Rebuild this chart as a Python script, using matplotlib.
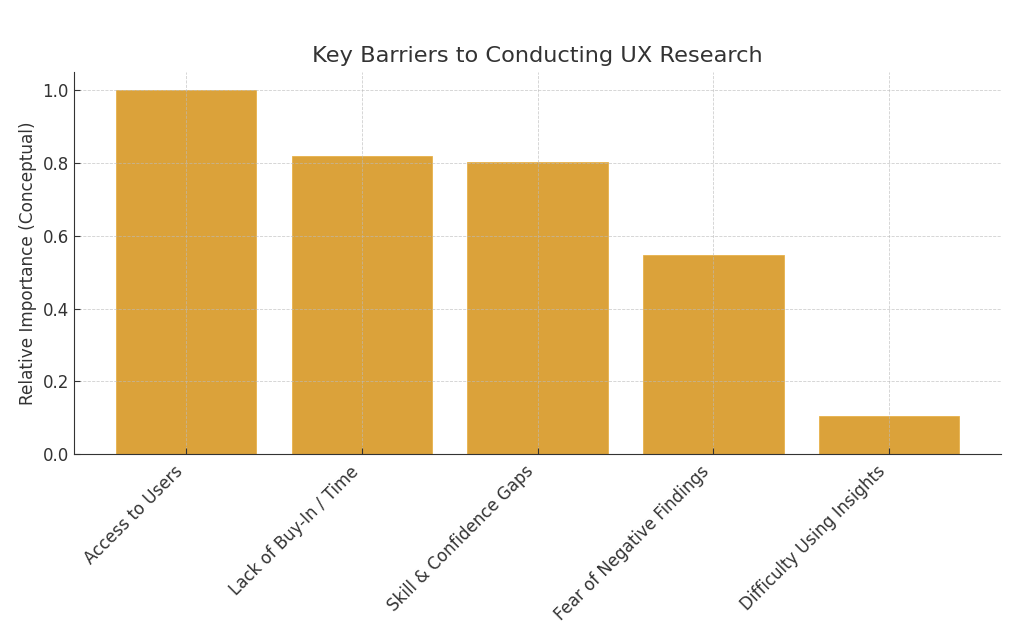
import matplotlib
matplotlib.use("Agg")
import matplotlib.pyplot as plt

categories = ["Access to Users", "Lack of Buy-In / Time", "Skill & Confidence Gaps",
              "Fear of Negative Findings", "Difficulty Using Insights"]
values = [1.0, 0.82, 0.802, 0.547, 0.104]
yticks = [0.0, 0.2, 0.4, 0.6, 0.8, 1.0]

plt.rcParams['font.family'] = ['DejaVu Sans']
text_color = '#333333'

fig, ax = plt.subplots(figsize=(10.24, 6.3), dpi=100)
ax.bar(range(len(categories)), values, width=0.8, color='#DBA23A',
       edgecolor='#E8B24A', linewidth=0.6)
ax.set_xticks(range(len(categories)))
ax.set_xticklabels(categories, rotation=45, ha='right',
                   fontsize=12, color=text_color)
ax.set_yticks(yticks)
ax.set_yticklabels([f"{v:.1f}" for v in yticks], fontsize=12, color=text_color)
ax.set_ylabel("Relative Importance (Conceptual)", fontsize=12.2, color=text_color)
ax.set_title("Key Barriers to Conducting UX Research", fontsize=16.2, color=text_color, pad=7)
ax.grid(True, linestyle='--', color='#bbbbbb', linewidth=0.6, alpha=0.7)
for s in ['top', 'right']:
    ax.spines[s].set_visible(False)
for s in ['left', 'bottom']:
    ax.spines[s].set_color('#333333')
ax.tick_params(axis='both', direction='in', length=4, color='#333333')
ax.tick_params(axis='x', pad=6)
fig.subplots_adjust(left=0.072, right=0.978, top=0.886, bottom=0.279)
fig.savefig("out.png", dpi=100)
